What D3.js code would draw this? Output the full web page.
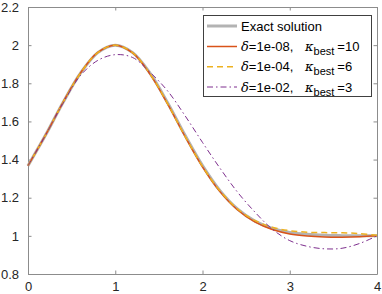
<!DOCTYPE html>
<html>
<head>
<meta charset="utf-8">
<script src="https://cdn.jsdelivr.net/npm/d3@7"></script>
<style>
  body { margin: 0; background: #fff; }
  text { font-family: "Liberation Sans", Arial, sans-serif; }
</style>
</head>
<body>
<div id="chart"></div>
<script>
// Data
const xs = [0, 0.2, 0.4, 0.6, 0.8, 1.0, 1.2, 1.4, 1.6, 1.8, 2.0, 2.2, 2.4, 2.6, 2.8, 3.0, 3.2, 3.4, 3.6, 3.8, 4.0];
const exactY = [1.368, 1.527, 1.698, 1.852, 1.961, 2.0, 1.961, 1.852, 1.698, 1.527, 1.368, 1.237, 1.141, 1.077, 1.039, 1.018, 1.008, 1.003, 1.001, 1.0, 1.0];
const d8Y = [1.368, 1.528, 1.699, 1.853, 1.962, 2.0, 1.959, 1.847, 1.692, 1.521, 1.362, 1.232, 1.137, 1.073, 1.033, 1.010, 0.999, 0.994, 0.993, 0.995, 1.0];
const d4Y = [1.368, 1.527, 1.698, 1.852, 1.961, 2.0, 1.960, 1.848, 1.693, 1.522, 1.364, 1.236, 1.142, 1.081, 1.045, 1.027, 1.019, 1.017, 1.016, 1.012, 1.003];
const d2Y = [1.368, 1.527, 1.695, 1.840, 1.920, 1.950, 1.935, 1.857, 1.760, 1.630, 1.490, 1.355, 1.230, 1.125, 1.035, 0.975, 0.945, 0.932, 0.935, 0.960, 1.0];

const xTicks = [0, 1, 2, 3, 4];
const yTicks = [0.8, 1, 1.2, 1.4, 1.6, 1.8, 2, 2.2];

const series = [
  { name: "exact", y: exactY, color: "#b3b3b3", width: 3, dash: null },
  { name: "d8", y: d8Y, color: "#D95319", width: 1.5, dash: null },
  { name: "d4", y: d4Y, color: "#EDB120", width: 1.5, dash: "6,4" },
  { name: "d2", y: d2Y, color: "#7E2F8E", width: 1, dash: "6,3,1.5,3" },
];

const legendRows = [
  { delta: "1e-08", kappa: "10" },
  { delta: "1e-04", kappa: "6" },
  { delta: "1e-02", kappa: "3" },
];

// Dimensions
const dims = { width: 382, height: 294, left: 28, right: 377, top: 7, bottom: 274 };

const svg = d3.select("#chart").append("svg")
  .attr("width", dims.width)
  .attr("height", dims.height);

// Scales
const xScale = d3.scaleLinear().domain([0, 4]).range([dims.left, dims.right]);
const yScale = d3.scaleLinear().domain([0.8, 2.2]).range([dims.bottom, dims.top]);

const axisColor = "#8c8c8c";
const textColor = "#262626";
const tickLen = 3.5;

// Axes box with inward ticks
const axisBottom = svg.append("g")
  .attr("transform", `translate(0,${dims.bottom})`)
  .call(d3.axisBottom(xScale).tickValues(xTicks).tickSize(-tickLen).tickSizeOuter(0).tickPadding(8).tickFormat(d3.format("d")));
const axisTop = svg.append("g")
  .attr("transform", `translate(0,${dims.top})`)
  .call(d3.axisTop(xScale).tickValues(xTicks).tickSize(-tickLen).tickSizeOuter(0).tickFormat(""));
const axisLeft = svg.append("g")
  .attr("transform", `translate(${dims.left},0)`)
  .call(d3.axisLeft(yScale).tickValues(yTicks).tickSize(-tickLen).tickSizeOuter(0).tickPadding(9).tickFormat(d3.format("")));
const axisRight = svg.append("g")
  .attr("transform", `translate(${dims.right},0)`)
  .call(d3.axisRight(yScale).tickValues(yTicks).tickSize(-tickLen).tickSizeOuter(0).tickFormat(""));

[axisBottom, axisTop, axisLeft, axisRight].forEach((g) => {
  g.select(".domain").attr("stroke", axisColor);
  g.selectAll(".tick line").attr("stroke", axisColor);
  g.selectAll(".tick text")
    .attr("fill", textColor)
    .style("font-size", "13px")
    .style("font-family", "'Liberation Sans', Arial, sans-serif");
});

// Lines
const line = d3.line()
  .x((d, i) => xScale(xs[i]))
  .y((d) => yScale(d))
  .curve(d3.curveCatmullRom);

series.forEach((s) => {
  svg.append("path")
    .datum(s.y)
    .attr("d", line)
    .attr("fill", "none")
    .attr("stroke", s.color)
    .attr("stroke-width", s.width)
    .attr("stroke-dasharray", s.dash);
});

// Legend
const legend = svg.append("g");
legend.append("rect")
  .attr("x", 203.5).attr("y", 15.5)
  .attr("width", 168).attr("height", 81)
  .attr("fill", "#fff")
  .attr("stroke", "#404040")
  .attr("stroke-width", 1);

const rowY = [26, 46.5, 66.8, 87];

series.forEach((s, i) => {
  legend.append("line")
    .attr("x1", 207).attr("x2", 237)
    .attr("y1", rowY[i]).attr("y2", rowY[i])
    .attr("stroke", s.color)
    .attr("stroke-width", s.width)
    .attr("stroke-dasharray", s.dash);
});

legend.append("text")
  .attr("x", 241).attr("y", rowY[0] + 4.5)
  .attr("fill", "#000")
  .style("font-size", "13px")
  .text("Exact solution");

legendRows.forEach((r, i) => {
  const y = rowY[i + 1] + 4.5;
  const t = legend.append("text")
    .attr("x", 241).attr("y", y)
    .attr("fill", "#000")
    .style("font-size", "13px");
  t.append("tspan").style("font-style", "italic").style("font-family", "'DejaVu Serif', serif").text("δ");
  t.append("tspan").text(`=${r.delta},`);

  const k = legend.append("text")
    .attr("x", 305).attr("y", y)
    .attr("fill", "#000")
    .style("font-size", "13px");
  k.append("tspan").style("font-style", "italic").style("font-family", "'DejaVu Serif', serif").text("κ");
  k.append("tspan").attr("dy", 4).style("font-size", "11px").text("best");
  k.append("tspan").attr("dy", -4).attr("dx", 3).text(`=${r.kappa}`);
});
</script>
</body>
</html>
